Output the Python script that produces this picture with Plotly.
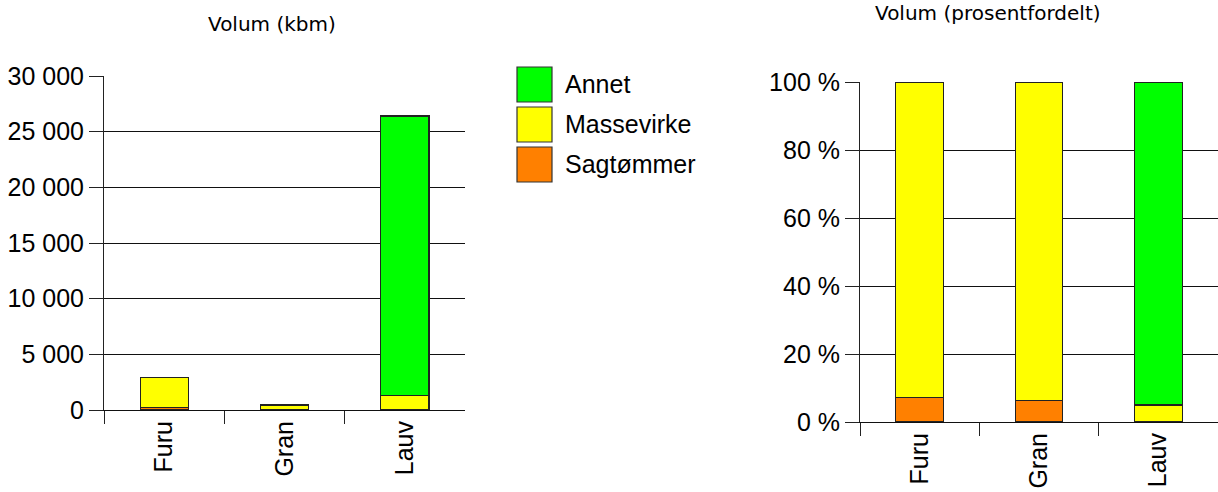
import plotly.graph_objects as go
from plotly.subplots import make_subplots

# -----------------------------
# Data
# -----------------------------
species = ["Furu", "Gran", "Lauv"]

# volume in kbm
sag_vol = [210, 30, 0]
masse_vol = [2700, 420, 1300]
annet_vol = [0, 0, 25100]

# share in percent
sag_pct = [7.3, 6.3, 0]
masse_pct = [92.7, 93.7, 5.0]
annet_pct = [0, 0, 95.0]

vol_ticks = [0, 5000, 10000, 15000, 20000, 25000, 30000]
pct_ticks = [0, 20, 40, 60, 80, 100]
pct_labels = ["0 %", "20 %", "40 %", "60 %", "80 %", "100 %"]

series = [
    ("Sagtømmer", sag_vol, sag_pct, "#FF8000"),
    ("Massevirke", masse_vol, masse_pct, "#FFFF00"),
    ("Annet", annet_vol, annet_pct, "#00FF00"),
]

W, H = 1218, 492
TICK_FONT = dict(family="Liberation Sans, Arial", size=25, color="black")
TITLE_FONT = dict(family="DejaVu Sans, Verdana", size=20, color="black")


def px(x):
    # window pixel -> paper fraction
    return x / W


def py(y):
    return 1 - y / H


fig = make_subplots(rows=1, cols=2)

for name, vol, pct, color in series:
    for col, vals in ((1, vol), (2, pct)):
        fig.add_trace(
            go.Bar(
                x=species,
                y=vals,
                name=name,
                width=0.4,
                marker=dict(color=color, line=dict(color="#222", width=1.2)),
                showlegend=False,
                hoverinfo="skip",
            ),
            row=1,
            col=col,
        )

# -----------------------------
# Axes
# -----------------------------
xcommon = dict(
    type="category",
    tickangle=-90,
    tickson="boundaries",
    ticks="outside",
    ticklen=13,
    tickwidth=1,
    tickcolor="#222",
    showline=True,
    linecolor="#111",
    linewidth=1,
    showgrid=False,
    tickfont=TICK_FONT,
    automargin=False,
    fixedrange=True,
)
ycommon = dict(
    ticks="outside",
    ticklen=14,
    tickwidth=1,
    tickcolor="#222",
    showline=True,
    linecolor="#222",
    linewidth=1,
    showgrid=True,
    gridcolor="#111",
    gridwidth=1,
    zeroline=False,
    tickfont=TICK_FONT,
    automargin=False,
    fixedrange=True,
)

fig.update_xaxes(xcommon, row=1, col=1, domain=[px(104), px(465)])
fig.update_xaxes(xcommon, row=1, col=2, domain=[px(860), 1.0])
fig.update_yaxes(
    ycommon, row=1, col=1, domain=[py(410), py(76)],
    range=[0, 30000], tickvals=vol_ticks, tickformat=",d",
)
fig.update_yaxes(
    ycommon, row=1, col=2, domain=[py(422), py(82)],
    range=[0, 100], tickvals=pct_ticks, ticktext=pct_labels,
)

# -----------------------------
# Titles
# -----------------------------
fig.add_annotation(text="Volum (kbm)", x=px(272), y=py(24), xref="paper", yref="paper",
                   showarrow=False, font=TITLE_FONT, xanchor="center", yanchor="middle")
fig.add_annotation(text="Volum (prosentfordelt)", x=px(988), y=py(13), xref="paper", yref="paper",
                   showarrow=False, font=TITLE_FONT, xanchor="center", yanchor="middle")

# -----------------------------
# Legend (big swatches, drawn by hand)
# -----------------------------
for i, (name, _, _, color) in enumerate(reversed(series)):
    top = 67 + i * 40
    fig.add_shape(type="rect", xref="paper", yref="paper",
                  x0=px(517), x1=px(552), y0=py(top + 35), y1=py(top),
                  fillcolor=color, line=dict(color="#333", width=1.2))
    fig.add_annotation(text=name, x=px(563), y=py(top + 17), xref="paper", yref="paper",
                       showarrow=False, font=TICK_FONT, xanchor="left", yanchor="middle")

fig.update_layout(
    width=W,
    height=H,
    barmode="stack",
    separators=", ",
    margin=dict(l=0, r=0, t=0, b=0),
    plot_bgcolor="white",
    paper_bgcolor="white",
    hovermode=False,
)

# drop the browser's default 8px body margin so the figure fills the window
fig.write_html(
    "out.html",
    config={"displayModeBar": False, "staticPlot": True},
    post_script="document.body.style.margin='0';document.body.style.overflow='hidden';",
)
